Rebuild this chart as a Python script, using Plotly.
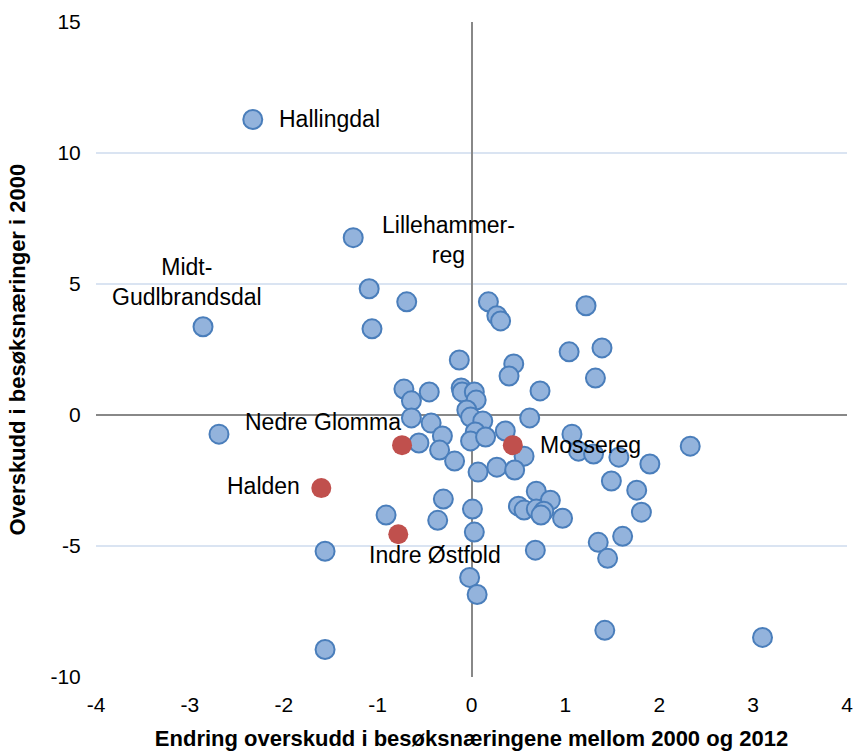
"""Scatter: endring i overskudd i besøksnæringene vs overskudd i 2000."""

import plotly.graph_objects as go

# Regioner (blå punkter)
blue_x = [
    -2.33, -1.26, -1.09, -0.69, -1.06, -2.86, -2.69, 0.18, 0.27, 0.31,
    1.22, -0.13, 0.45, 0.40, 1.04, 1.39, 1.32, 0.73, -0.72, -0.45,
    -0.64, -0.11, -0.10, 0.03, 0.05, -0.64, -0.43, -0.05, -0.01, 0.12,
    0.04, -0.01, 0.15, -0.31, -0.56, -0.34, -0.18, 0.36, 0.62, 0.56,
    1.07, 1.14, 1.30, 1.57, 1.90, 2.33, 0.07, 0.27, 0.46, 1.49,
    1.76, 1.81, 0.69, 0.84, 0.50, 0.56, 0.69, 0.77, 0.74, 0.97,
    -0.91, -0.30, -0.36, 0.01, 0.03, 1.61, 1.35, 1.45, 0.68, -1.56,
    -0.02, 0.06, 1.42, 3.10, -1.56,
]
blue_y = [
    11.28, 6.77, 4.82, 4.32, 3.29, 3.37, -0.73, 4.32, 3.79, 3.59,
    4.17, 2.10, 1.95, 1.49, 2.41, 2.56, 1.41, 0.92, 0.99, 0.88,
    0.54, 1.03, 0.88, 0.88, 0.57, -0.11, -0.31, 0.19, -0.08, -0.23,
    -0.65, -0.99, -0.84, -0.80, -1.07, -1.34, -1.76, -0.61, -0.11, -1.57,
    -0.73, -1.38, -1.49, -1.61, -1.87, -1.19, -2.18, -1.99, -2.10, -2.52,
    -2.87, -3.71, -2.91, -3.25, -3.48, -3.63, -3.59, -3.67, -3.82, -3.94,
    -3.82, -3.21, -4.02, -3.59, -4.47, -4.63, -4.86, -5.47, -5.16, -5.20,
    -6.20, -6.85, -8.22, -8.49, -8.95,
]

# Østfold-regioner (røde punkter)
red_names = ["Nedre Glomma", "Mossereg", "Halden", "Indre Østfold"]
red_x = [-0.74, 0.44, -1.60, -0.78]
red_y = [-1.15, -1.15, -2.79, -4.55]

# Navngitte blå punkter
named_names = ["Hallingdal", "Lillehammer-<br>reg", "Midt-<br>Gudlbrandsdal"]
named_x = [-2.33, -1.26, -2.86]
named_y = [11.28, 6.77, 3.37]

x_ticks = [-4, -3, -2, -1, 0, 1, 2, 3, 4]
x_labels = ["-4", "-3", "-2", "-1", "0", "1", "2", "3", "4"]
y_ticks = [-10, -5, 0, 5, 10, 15]
y_labels = ["-10", "-5", "0", "5", "10", "15"]

FONT = "Liberation Sans, Arial, sans-serif"

fig = go.Figure()

fig.add_trace(
    go.Scatter(
        x=blue_x,
        y=blue_y,
        mode="markers",
        marker={
            "size": 19,
            "color": "#93b3dc",
            "line": {"color": "#4a7ebb", "width": 2},
        },
        showlegend=False,
    )
)

fig.add_trace(
    go.Scatter(
        x=red_x,
        y=red_y,
        mode="markers",
        marker={"size": 20, "color": "#c0504d", "line": {"width": 0}},
        showlegend=False,
    )
)

# Label placement (offsets in px relative to the point)
named_pos = [
    {"xanchor": "left", "xshift": 24, "yshift": 0},
    {"xanchor": "center", "xshift": 95, "yshift": -2},
    {"xanchor": "center", "xshift": -16, "yshift": 45},
]
red_pos = [
    {"xanchor": "right", "xshift": 1, "yshift": 23},
    {"xanchor": "left", "xshift": 25, "yshift": 0},
    {"xanchor": "right", "xshift": -19, "yshift": 2},
    {"xanchor": "center", "xshift": 37, "yshift": -21},
]

for name, x, y, pos in zip(named_names + red_names, named_x + red_x,
                           named_y + red_y, named_pos + red_pos):
    fig.add_annotation(
        x=x,
        y=y,
        text=name,
        showarrow=False,
        align="center",
        yanchor="middle",
        font={"family": FONT, "size": 23, "color": "black"},
        **pos,
    )

# Y-axis title as a rotated annotation so it can sit close to the edge
fig.add_annotation(
    text="<b>Overskudd i besøksnæringer i 2000</b>",
    xref="paper",
    yref="paper",
    x=0,
    y=0.5,
    xanchor="center",
    yanchor="middle",
    xshift=-79,
    textangle=-90,
    showarrow=False,
    font={"family": FONT, "size": 22, "color": "black"},
)

fig.update_layout(
    width=856,
    height=754,
    plot_bgcolor="white",
    paper_bgcolor="white",
    margin={"l": 96, "r": 9, "t": 22, "b": 77},
    font={"family": FONT, "color": "black"},
)

fig.update_xaxes(
    range=[-4, 4],
    tickvals=x_ticks,
    ticktext=x_labels,
    automargin=False,
    ticklabeloverflow="allow",
    showgrid=False,
    zeroline=True,
    zerolinecolor="#888888",
    zerolinewidth=1.5,
    showline=False,
    ticks="outside",
    ticklen=9,
    tickcolor="rgba(0,0,0,0)",
    tickfont={"size": 21},
    title={
        "text": "<b>Endring overskudd i besøksnæringene mellom 2000 og 2012</b>",
        "font": {"size": 22},
    },
)

fig.update_yaxes(
    range=[-10, 15],
    tickvals=y_ticks,
    ticktext=y_labels,
    automargin=False,
    showgrid=True,
    gridcolor="#dae4f2",
    gridwidth=1.5,
    zeroline=True,
    zerolinecolor="#888888",
    zerolinewidth=1.5,
    showline=False,
    ticks="outside",
    ticklen=10,
    tickcolor="rgba(0,0,0,0)",
    tickfont={"size": 21},
)

# Drop the default 8px page margin so the figure fills the window exactly
fig.write_html(
    "out.html",
    config={"displayModeBar": False},
    post_script="document.body.style.margin = '0';",
)
